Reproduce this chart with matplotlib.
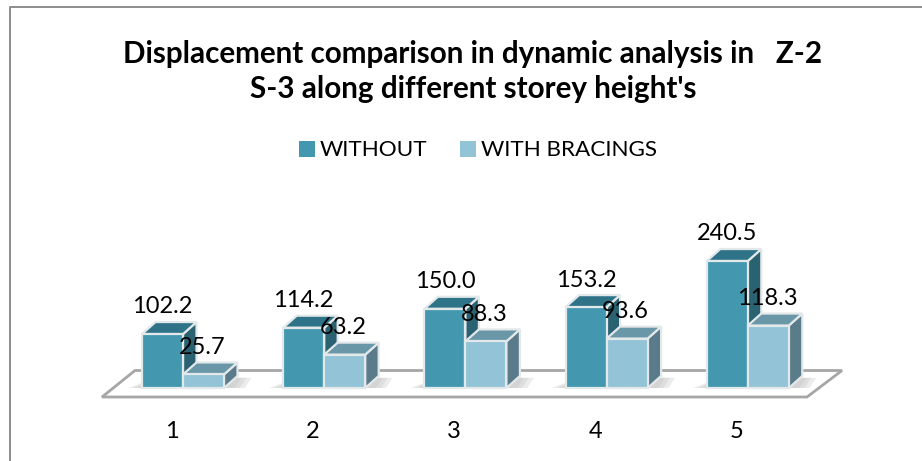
import matplotlib
matplotlib.use("Agg")
import matplotlib.pyplot as plt
from matplotlib.patches import Polygon, Patch
from matplotlib.lines import Line2D

categories = ["1", "2", "3", "4", "5"]
series_names = ["WITHOUT", "WITH BRACINGS"]
without = [102.2, 114.2, 150.0, 153.2, 240.5]
with_bracings = [25.7, 63.2, 88.3, 93.6, 118.3]
value_labels_a = ["102.2", "114.2", "150.0", "153.2", "240.5"]
value_labels_b = ["25.7", "63.2", "88.3", "93.6", "118.3"]

W, H = 922, 461
PX_X = 141.2      # pixels per category
PX_Y = 0.528      # pixels per value unit
X0, Y0 = 183, 388 # pixel of category 0 / value 0 (from top)
BAR = 41 / PX_X
DX, DY = 13.5 / PX_X, 12 / PX_Y

FRONT = ["#4398B0", "#92C3D6"]
TOP = ["#2E7387", "#6A97A8"]
SIDE = ["#2A6272", "#5A7C8A"]
EDGE = "#E3E8EA"
FONT = ["Lato", "Open Sans", "DejaVu Sans"]

plt.rcParams["font.family"] = FONT
fig = plt.figure(figsize=(W / 100, H / 100), dpi=100)
ax = fig.add_axes([0, 0, 1, 1])
ax.set_xlim(-X0 / PX_X, (W - X0) / PX_X)
ax.set_ylim(-(H - Y0) / PX_Y, Y0 / PX_Y)
ax.axis("off")


def px(x, y):
    return (x - X0) / PX_X, (Y0 - y) / PX_Y


# chart frame: left and top edges only
fig.add_artist(Line2D([9.5 / W, 9.5 / W, 1], [0, 1 - 7.5 / H, 1 - 7.5 / H], color="#8C8C8C", lw=1.4))

# floor
ax.add_patch(Polygon([px(102, 397), px(135, 370.5), px(842, 370.5), px(807, 397)],
                     closed=True, fc="white", ec="#A6A6A6", lw=2, joinstyle="miter", zorder=1))


def bar3d(x, v, s):
    left, right = x, x + BAR
    ax.add_patch(Polygon([(right, 0), (right + DX, DY), (right + DX, v + DY), (right, v)],
                         closed=True, fc=SIDE[s], ec=EDGE, lw=1.6, zorder=2 + s))
    ax.add_patch(Polygon([(left, v), (left + DX, v + DY), (right + DX, v + DY), (right, v)],
                         closed=True, fc=TOP[s], ec=EDGE, lw=1.6, zorder=2 + s))
    ax.bar(left, v, BAR, align="edge", color=FRONT[s], edgecolor=EDGE, linewidth=1.6, zorder=2.5 + s)


for i in range(len(categories)):
    # soft floor shadow, built from nested translucent layers
    for grow in (14, 9, 4):
        g = grow / PX_X
        ax.add_patch(Polygon([(i - BAR - g, 0), (i - BAR + DX, DY * 0.85),
                              (i + BAR + DX + g, DY * 0.85), (i + BAR + DX / 2 + g, 0)],
                             closed=True, fc="#BDBDBD", ec="none", alpha=0.28, zorder=1.5))
    bar3d(i - BAR, without[i], 0)
    bar3d(i, with_bracings[i], 1)
    ax.annotate(value_labels_a[i], (i - BAR / 2, without[i]), xytext=(0, 19.5), textcoords="offset points",
                ha="center", va="center", fontsize=17, color="black", zorder=6)
    ax.annotate(value_labels_b[i], (i + BAR / 2 - 0.01, with_bracings[i]), xytext=(0, 19.5), textcoords="offset points",
                ha="center", va="center", fontsize=17, color="black", zorder=6)
    ax.annotate(categories[i], (i, 0), xytext=(-8, -31), textcoords="offset points",
                ha="center", va="center", fontsize=17, color="black")

fig.text(473 / W, 1 - 54 / H, "Displacement comparison in dynamic analysis in   Z-2", ha="center", va="center",
         fontsize=21.3, fontweight="bold", color="black")
fig.text(473 / W, 1 - 89 / H, "S-3 along different storey height's", ha="center", va="center",
         fontsize=21.3, fontweight="bold", color="black")

handles = [Patch(facecolor=FRONT[0]), Patch(facecolor=FRONT[1])]
fig.legend(handles, series_names, loc="center", bbox_to_anchor=(478 / W, 1 - 150.5 / H), ncol=2, frameon=False,
           fontsize=16.2, handlelength=0.72, handleheight=0.72, handletextpad=0.2, columnspacing=1.45)

fig.savefig("out.png", dpi=100)
